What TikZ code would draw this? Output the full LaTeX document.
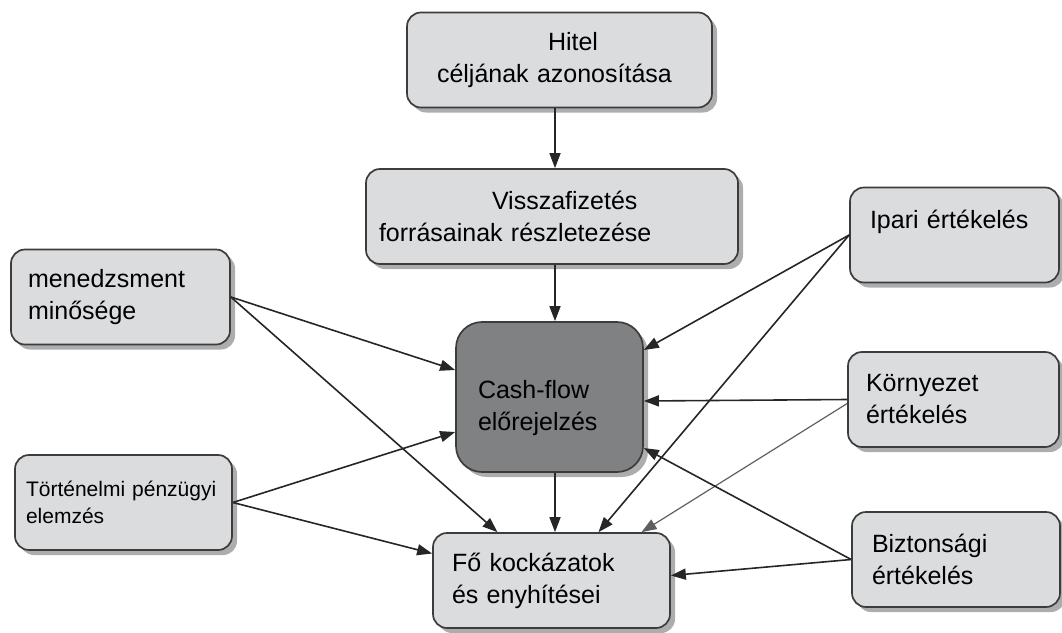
\documentclass[tikz,border=0pt]{standalone}
\usepackage{fontspec}
\setmainfont{Liberation Sans}
\usetikzlibrary{arrows.meta,shadows}
\definecolor{boxfill}{RGB}{219,220,222}
\definecolor{cashfill}{RGB}{128,129,131}
\definecolor{boxline}{RGB}{60,60,60}
\definecolor{thinline}{RGB}{95,95,95}
\tikzset{
  box/.style={draw=boxline,line width=1.7pt,fill=boxfill,rounded corners=14pt,
    drop shadow={shadow xshift=5pt,shadow yshift=-5pt,fill=black!40,opacity=0.8},
    align=left,font=\fontsize{25}{32}\selectfont,inner ysep=0pt,minimum height=95pt},
  darkbox/.style={box,fill=cashfill,rounded corners=26pt,minimum height=150pt},
  arr/.style={-{Triangle[length=15pt,width=11pt]},line width=1.6pt,draw=black!85},
  thinarr/.style={arr,line width=1.2pt,draw=thinline}
}

\begin{document}
\begin{tikzpicture}[x=1pt,y=-1pt]
    \useasboundingbox (0,0) rectangle (1062,632);
    %middle column
    \node[box,inner xsep=30pt,text width=245pt] (hitel) at (559.5,60)
      {\hspace*{111pt}Hitel\\céljának azonosítása};
    \node[box,inner xsep=13pt,text width=346pt] (vissza) at (552,216.5)
      {\hspace*{113pt}Visszafizetés\\forrásainak részletezése};
    \node[darkbox,inner xsep=22pt,text width=143pt] (cash) at (549.5,397)
      {\rule{0pt}{40pt}Cash-flow\\előrejelzés};
    \node[box,inner xsep=19pt,text width=199pt] (fo) at (551.5,580.5)
      {Fő kockázatok\\és enyhítései};
    \coordinate (axis) at (555,0);

    %left side
    \node[box,inner xsep=17pt,text width=185pt] (menedz) at (120.5,297)
      {menedzsment\\minősége};
    \node[box,inner xsep=11pt,text width=195pt,font=\fontsize{21}{27}\selectfont] (tort) at (123.5,502.5)
      {Történelmi pénzügyi\\elemzés};

    %right side
    \node[box,inner xsep=20pt,text width=169pt] (ipari) at (954.5,235)
      {Ipari értékelés\\ \mbox{}};
    \node[box,inner xsep=18pt,text width=175pt] (korny) at (953.5,399.5)
      {Környezet\\értékelés};
    \node[box,inner xsep=20pt,text width=168pt] (bizt) at (956,559.5)
      {Biztonsági\\értékelés};

    % down the middle
    \draw[arr] (hitel.south -| axis) -- (vissza.north -| axis);
    \draw[arr] (vissza.south -| axis) -- (cash.north -| axis);
    \draw[arr] (cash.south -| axis) -- (fo.north -| axis);

    % from the left
    \draw[arr] (menedz.east) -- ([yshift=27pt]cash.west);
    \draw[arr] (menedz.east) -- ([xshift=-54pt]fo.north);
    \draw[arr] (tort.east) -- ([yshift=-35pt]cash.west);
    \draw[arr] (tort.east) -- ([yshift=27pt]fo.west);

    % from the right
    \draw[arr] (ipari.west) -- ([yshift=47pt]cash.east);
    \draw[arr] (ipari.west) -- ([xshift=47pt]fo.north);
    \draw[arr] (korny.west) -- ([yshift=-4pt]cash.east);
    \draw[thinarr] ([yshift=-4pt]korny.west) -- ([xshift=90pt]fo.north);
    \draw[arr] (bizt.west) -- ([yshift=-51pt]cash.east);
    \draw[arr] (bizt.west) -- ([yshift=5pt]fo.east);
  \end{tikzpicture}
\end{document}
